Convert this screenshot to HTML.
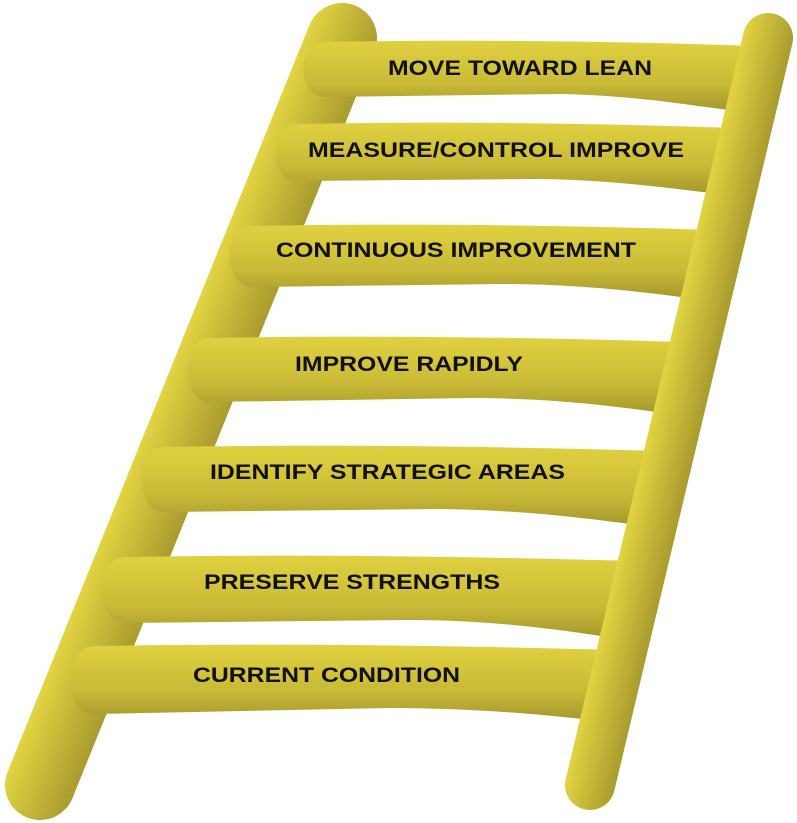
<!DOCTYPE html>
<html><head><meta charset="utf-8"><style>
html,body{margin:0;padding:0;background:#fff;}
svg{display:block;}
text{font-family:"Liberation Sans",Arial,sans-serif;font-weight:bold;font-size:21px;fill:#111;}
</style></head><body>
<svg width="797" height="823" viewBox="0 0 797 823" xmlns="http://www.w3.org/2000/svg">
<defs>
<linearGradient id="rl" gradientUnits="userSpaceOnUse" x1="158.6" y1="397.9" x2="223.4" y2="424.1">
<stop offset="0" stop-color="#e2d442"/><stop offset="1" stop-color="#a99b2e"/></linearGradient>
<linearGradient id="rr" gradientUnits="userSpaceOnUse" x1="654.7" y1="405.2" x2="703.3" y2="416.8">
<stop offset="0" stop-color="#e2d442"/><stop offset="1" stop-color="#a99b2e"/></linearGradient>
<linearGradient id="rung" x1="0" y1="0" x2="0" y2="1">
<stop offset="0" stop-color="#e0d140"/><stop offset="0.6" stop-color="#c9ba37"/><stop offset="1" stop-color="#a3962c"/></linearGradient>
</defs>
<line x1="40" y1="785" x2="342" y2="38" stroke="url(#rl)" stroke-width="70" stroke-linecap="round"/>
<g fill="url(#rung)">
<path d="M325,42 Q520,38 755,46 L750,112 C700,108 650,96 560,94 L325,97 C296,97 296,42 325,42Z"/>
<path d="M297,124 Q500,120 735,128 L730,195 C680,190 620,180 540,179 L297,181 C268,181 268,124 297,124Z"/>
<path d="M253,226 Q460,222 712,230 L705,300 C655,294 590,284 500,284 L253,287 C222,287 222,226 253,226Z"/>
<path d="M210,338 Q420,334 686,342 L678,415 C628,408 560,398 470,398 L210,402 C180,402 180,338 210,338Z"/>
<path d="M165,447 Q380,443 660,451 L652,527 C600,520 530,510 440,509 L165,512 C134,512 134,447 165,447Z"/>
<path d="M125,557 Q350,553 635,561 L627,640 C575,632 500,620 410,620 L125,623 C94,623 94,557 125,557Z"/>
<path d="M95,646 Q330,642 615,650 L607,722 C560,716 480,708 390,708 L95,714 C62,714 62,646 95,646Z"/>
</g>
<line x1="768" y1="38" x2="590" y2="785" stroke="url(#rr)" stroke-width="50" stroke-linecap="round"/>
<text x="388" y="75" textLength="264" lengthAdjust="spacingAndGlyphs">MOVE TOWARD LEAN</text>
<text x="308" y="157" textLength="376" lengthAdjust="spacingAndGlyphs">MEASURE/CONTROL IMPROVE</text>
<text x="276" y="257" textLength="360" lengthAdjust="spacingAndGlyphs">CONTINUOUS IMPROVEMENT</text>
<text x="295" y="371" textLength="228" lengthAdjust="spacingAndGlyphs">IMPROVE RAPIDLY</text>
<text x="210" y="479" textLength="355" lengthAdjust="spacingAndGlyphs">IDENTIFY STRATEGIC AREAS</text>
<text x="204" y="589" textLength="296" lengthAdjust="spacingAndGlyphs">PRESERVE STRENGTHS</text>
<text x="193" y="682" textLength="267" lengthAdjust="spacingAndGlyphs">CURRENT CONDITION</text>
</svg>
</body></html>
